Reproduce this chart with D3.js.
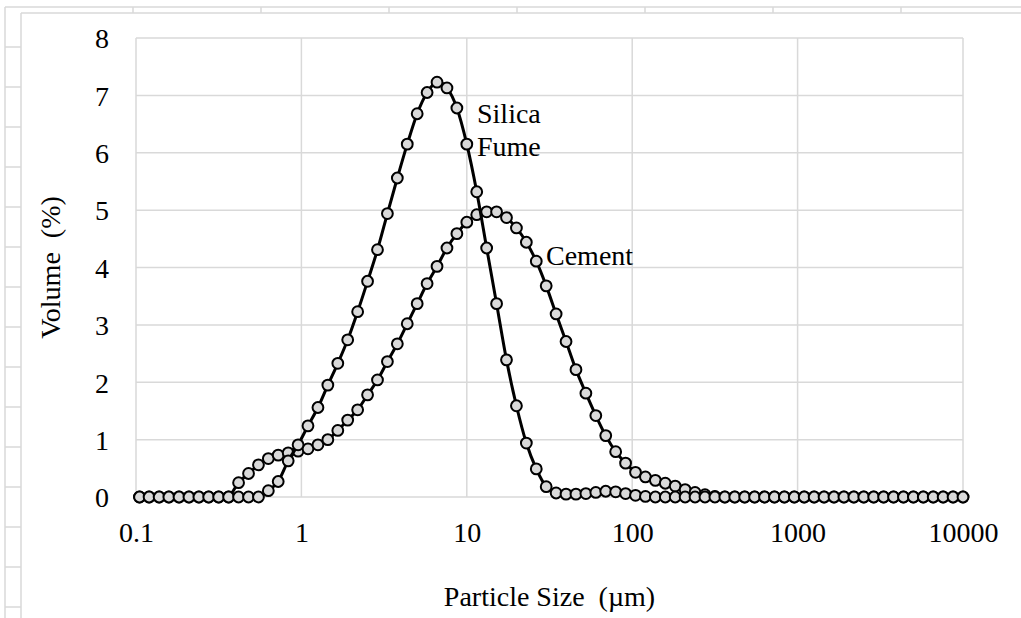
<!DOCTYPE html>
<html><head><meta charset="utf-8">
<script src="https://cdn.jsdelivr.net/npm/d3@7"></script>
<style>
html,body{margin:0;padding:0;background:#fff;}
svg text{font-family:"Liberation Serif","Times New Roman",serif;fill:#000;}
</style></head>
<body>
<svg id="chart" width="1021" height="618"></svg>
<script>
// Particle size classes (µm)
const sizes = [0.105,0.120,0.138,0.158,0.182,0.209,0.240,0.275,0.316,0.363,
0.417,0.479,0.550,0.631,0.724,0.832,0.955,1.096,1.259,1.445,
1.660,1.905,2.188,2.512,2.884,3.311,3.802,4.365,5.012,5.754,
6.607,7.586,8.710,10.000,11.482,13.183,15.136,17.378,19.953,22.909,
26.303,30.200,34.674,39.811,45.709,52.481,60.256,69.183,79.433,91.201,
104.713,120.226,138.038,158.489,181.970,208.930,239.883,275.423,316.228,363.078,
416.869,478.630,549.541,630.957,724.436,831.764,954.993,1096.478,1258.925,1445.440,
1659.587,1905.461,2187.762,2511.886,2884.032,3311.311,3801.894,4365.158,5011.872,5754.399,
6606.934,7585.776,8709.636,10000];

const cement = [0,0,0,0,0,0,0,0,0,0,
0.25,0.41,0.56,0.67,0.73,0.77,0.80,0.84,0.91,1.00,
1.16,1.34,1.52,1.78,2.04,2.36,2.67,3.02,3.37,3.72,
4.02,4.34,4.59,4.79,4.92,4.97,4.97,4.87,4.69,4.44,
4.11,3.68,3.19,2.71,2.22,1.81,1.42,1.07,0.79,0.59,
0.43,0.35,0.29,0.24,0.19,0.13,0.08,0.04,0.01,0,
0,0,0,0,0,0,0,0,0,0,
0,0,0,0,0,0,0,0,0,0,
0,0,0,0];

const silicaFume = [0,0,0,0,0,0,0,0,0,0,
0,0,0,0.11,0.27,0.63,0.91,1.24,1.56,1.95,
2.33,2.74,3.23,3.76,4.31,4.94,5.56,6.15,6.68,7.05,
7.23,7.13,6.78,6.15,5.32,4.34,3.37,2.39,1.59,0.94,
0.49,0.18,0.07,0.05,0.05,0.06,0.08,0.10,0.09,0.06,
0.03,0.01,0,0,0,0,0,0,0,0,
0,0,0,0,0,0,0,0,0,0,
0,0,0,0,0,0,0,0,0,0,
0,0,0,0];

const xTicks = [0.1,1,10,100,1000,10000];
const xTickLabels = ["0.1","1","10","100","1000","10000"];
const yTicks = [0,1,2,3,4,5,6,7,8];

const FONT = "Liberation Serif";
const svg = d3.select("#chart");
const grid = "#d9d9d9";

// Spreadsheet background cells
const bg = svg.append("g");
bg.append("line").attr("x1",5).attr("x2",1021).attr("y1",7).attr("y2",7).attr("stroke",grid).attr("stroke-width",1.5);
bg.append("line").attr("x1",5).attr("x2",5).attr("y1",7).attr("y2",618).attr("stroke",grid).attr("stroke-width",1.5);
[133,261,389,517,645,773,901].forEach(xx=>{
  bg.append("line").attr("x1",xx).attr("x2",xx).attr("y1",7).attr("y2",13).attr("stroke",grid).attr("stroke-width",1.5);
});
d3.range(47,618,40).forEach(yy=>{
  bg.append("line").attr("x1",5).attr("x2",21).attr("y1",yy).attr("y2",yy).attr("stroke",grid).attr("stroke-width",1.5);
});
bg.append("line").attr("x1",21).attr("x2",1021).attr("y1",13).attr("y2",13).attr("stroke",grid).attr("stroke-width",1.5);
bg.append("line").attr("x1",21).attr("x2",21).attr("y1",13).attr("y2",618).attr("stroke",grid).attr("stroke-width",1.5);

const pLeft=136, pRight=963, pTop=38, pBottom=497;
const x = d3.scaleLog().domain([0.1,10000]).range([pLeft,pRight]);
const y = d3.scaleLinear().domain([0,8]).range([pBottom,pTop]);

const g = svg.append("g");
g.selectAll(".hg").data(yTicks).join("line")
 .attr("x1",pLeft).attr("x2",pRight).attr("y1",d=>y(d)).attr("y2",d=>y(d))
 .attr("stroke",grid).attr("stroke-width",1.5);
g.selectAll(".vg").data(xTicks).join("line")
 .attr("y1",pTop).attr("y2",pBottom).attr("x1",d=>x(d)).attr("x2",d=>x(d))
 .attr("stroke",grid).attr("stroke-width",1.5);

const xAxis = d3.axisBottom(x).tickValues(xTicks).tickFormat((d,i)=>xTickLabels[i]).tickSize(0).tickPadding(0);
const xa = svg.append("g").attr("transform",`translate(0,${pBottom})`).call(xAxis).attr("font-family",FONT);
xa.select(".domain").remove();
xa.selectAll("text").attr("font-size",28).attr("dy",null).attr("y",45).attr("font-family",FONT).attr("fill","#000");

const yAxis = d3.axisLeft(y).tickValues(yTicks).tickFormat(d3.format("d")).tickSize(0).tickPadding(0);
const ya = svg.append("g").attr("transform",`translate(109,0)`).call(yAxis).attr("font-family",FONT);
ya.select(".domain").remove();
ya.selectAll("text").attr("font-size",28).attr("dy","0.35em").attr("x",0).attr("font-family",FONT).attr("fill","#000");

svg.append("text").attr("x",(pLeft+pRight)/2).attr("y",606).attr("text-anchor","middle")
  .attr("font-family",FONT).attr("font-size",28).attr("xml:space","preserve").text("Particle Size  (µm)");
svg.append("text").attr("transform",`translate(60,${(pTop+pBottom)/2}) rotate(-90)`).attr("text-anchor","middle")
  .attr("font-family",FONT).attr("font-size",28).attr("xml:space","preserve").text("Volume  (%)");

const line = d3.line().x((d,i)=>x(sizes[i])).y(d=>y(d)).curve(d3.curveCardinal.tension(0));
function drawSeries(vals){
  const sg = svg.append("g");
  sg.append("path").datum(vals).attr("d",line).attr("fill","none").attr("stroke","#000").attr("stroke-width",3);
  sg.selectAll("circle").data(vals).join("circle")
    .attr("cx",(d,i)=>x(sizes[i])).attr("cy",d=>y(d)).attr("r",5.4)
    .attr("fill","#d9d9d9").attr("stroke","#000").attr("stroke-width",2);
}
drawSeries(cement);
drawSeries(silicaFume);

svg.append("text").attr("x",477).attr("y",123).attr("font-family",FONT).attr("font-size",28).text("Silica");
svg.append("text").attr("x",477).attr("y",156).attr("font-family",FONT).attr("font-size",28).text("Fume");
svg.append("text").attr("x",546).attr("y",265).attr("font-family",FONT).attr("font-size",28).text("Cement");
</script>
</body></html>
